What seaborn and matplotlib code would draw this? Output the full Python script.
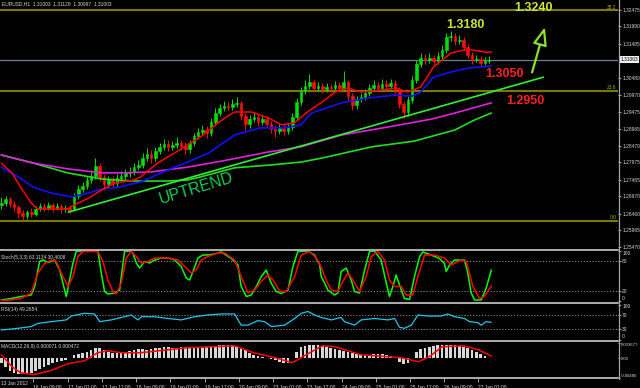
import matplotlib
matplotlib.use("Agg")
import matplotlib.pyplot as plt
from matplotlib.lines import Line2D
import matplotlib.transforms as mtransforms
import seaborn as sns

# ---------------- data ----------------
candle_hours = list(range(0, 229, 2))
open0 = 1.2670
closes = [1.2677, 1.2689, 1.2674, 1.2665, 1.2648, 1.2639, 1.2650, 1.2645, 1.2659, 1.2668,
          1.2662, 1.2671, 1.2662, 1.2668, 1.2659, 1.2662, 1.2656, 1.2698, 1.2718, 1.2727,
          1.2745, 1.2757, 1.2786, 1.2754, 1.2733, 1.2748, 1.2736, 1.2751, 1.2757, 1.2766,
          1.2769, 1.2783, 1.2789, 1.2810, 1.2822, 1.2810, 1.2831, 1.2843, 1.2851, 1.2843,
          1.2849, 1.2854, 1.2846, 1.2837, 1.2854, 1.2875, 1.2887, 1.2893, 1.2884, 1.2917,
          1.2943, 1.2958, 1.2964, 1.2961, 1.2970, 1.2973, 1.2934, 1.2911, 1.2925, 1.2931,
          1.2917, 1.2925, 1.2911, 1.2896, 1.2890, 1.2899, 1.2890, 1.2902, 1.2931, 1.2976,
          1.3008, 1.3023, 1.3035, 1.3017, 1.3023, 1.3014, 1.3020, 1.3017, 1.3026, 1.3017,
          1.3035, 1.2993, 1.2967, 1.2984, 1.2990, 1.3002, 1.3017, 1.3026, 1.3017, 1.3029,
          1.3023, 1.3032, 1.3011, 1.2970, 1.2946, 1.2982, 1.3041, 1.3088, 1.3106, 1.3100,
          1.3106, 1.3097, 1.3112, 1.3129, 1.3168, 1.3171, 1.3156, 1.3159, 1.3138, 1.3115,
          1.3100, 1.3103, 1.3091, 1.3097, 1.3100]
highs = [1.2695, 1.2698, 1.2695, 1.2683, 1.2671, 1.2656, 1.2656, 1.2662, 1.2668, 1.2677,
         1.2677, 1.2680, 1.2677, 1.2677, 1.2674, 1.2671, 1.2671, 1.2707, 1.2730, 1.2739,
         1.2757, 1.2775, 1.2810, 1.2795, 1.2763, 1.2757, 1.2757, 1.2763, 1.2772, 1.2778,
         1.2783, 1.2795, 1.2804, 1.2825, 1.2840, 1.2834, 1.2843, 1.2854, 1.2866, 1.2863,
         1.2860, 1.2872, 1.2863, 1.2857, 1.2863, 1.2884, 1.2899, 1.2908, 1.2905, 1.2928,
         1.2958, 1.2970, 1.2979, 1.2976, 1.2984, 1.2990, 1.2979, 1.2943, 1.2937, 1.2946,
         1.2940, 1.2937, 1.2934, 1.2920, 1.2908, 1.2911, 1.2908, 1.2914, 1.2943, 1.2987,
         1.3020, 1.3041, 1.3058, 1.3041, 1.3035, 1.3032, 1.3032, 1.3029, 1.3038, 1.3035,
         1.3067, 1.3041, 1.3002, 1.2993, 1.3002, 1.3014, 1.3029, 1.3041, 1.3035, 1.3044,
         1.3041, 1.3044, 1.3041, 1.3020, 1.2979, 1.2993, 1.3052, 1.3100, 1.3120, 1.3117,
         1.3120, 1.3115, 1.3123, 1.3144, 1.3180, 1.3185, 1.3180, 1.3174, 1.3168, 1.3147,
         1.3123, 1.3115, 1.3112, 1.3109, 1.3112]
lows = [1.2659, 1.2668, 1.2665, 1.2653, 1.2633, 1.2627, 1.2630, 1.2636, 1.2639, 1.2653,
        1.2653, 1.2656, 1.2650, 1.2656, 1.2648, 1.2650, 1.2648, 1.2653, 1.2689, 1.2710,
        1.2718, 1.2736, 1.2748, 1.2742, 1.2716, 1.2721, 1.2724, 1.2727, 1.2742, 1.2748,
        1.2754, 1.2760, 1.2775, 1.2781, 1.2801, 1.2795, 1.2801, 1.2822, 1.2834, 1.2831,
        1.2834, 1.2840, 1.2834, 1.2822, 1.2825, 1.2846, 1.2866, 1.2878, 1.2869, 1.2875,
        1.2908, 1.2934, 1.2949, 1.2952, 1.2952, 1.2961, 1.2922, 1.2893, 1.2899, 1.2917,
        1.2905, 1.2908, 1.2899, 1.2884, 1.2872, 1.2881, 1.2878, 1.2881, 1.2893, 1.2922,
        1.2967, 1.2999, 1.3014, 1.3005, 1.3008, 1.3002, 1.3005, 1.3005, 1.3008, 1.3005,
        1.3008, 1.2982, 1.2952, 1.2955, 1.2976, 1.2982, 1.2993, 1.3008, 1.3005, 1.3008,
        1.3011, 1.3014, 1.2996, 1.2958, 1.2928, 1.2934, 1.2973, 1.3032, 1.3079, 1.3088,
        1.3091, 1.3085, 1.3088, 1.3103, 1.3120, 1.3156, 1.3144, 1.3147, 1.3126, 1.3106,
        1.3088, 1.3094, 1.3082, 1.3085, 1.3091]

ma_red_h = [0, 5, 9, 14, 17, 23, 31, 34, 41, 47, 53, 62, 65, 73, 81, 87, 93, 103, 109, 117,
            125, 131, 137, 143, 150, 156, 162, 168, 178, 184, 190, 196, 202, 210, 218, 226, 229]
ma_red_p = [1.2795, 1.2766, 1.2724, 1.2677, 1.2659, 1.2659, 1.2659, 1.2671, 1.2692, 1.2716,
            1.2736, 1.2745, 1.2754, 1.2795, 1.2825, 1.2849, 1.2872, 1.2922, 1.2946, 1.2946,
            1.2928, 1.2908, 1.2914, 1.2946, 1.2976, 1.3005, 1.3017, 1.3005, 1.3011, 1.3017,
            1.3005, 1.3020, 1.3079, 1.3120, 1.3132, 1.3123, 1.3123]
ma_blue_h = [0, 8, 15, 23, 33, 41, 47, 55, 65, 78, 87, 97, 109, 121, 132, 140, 145, 159,
             171, 184, 192, 196, 202, 210, 218, 224, 229]
ma_blue_p = [1.2783, 1.2754, 1.2724, 1.2707, 1.2695, 1.2707, 1.2718, 1.2724, 1.2739, 1.2775,
             1.2798, 1.2825, 1.2878, 1.2899, 1.2899, 1.2908, 1.2943, 1.2973, 1.2987, 1.2996,
             1.2993, 1.3005, 1.3049, 1.3064, 1.3076, 1.3079, 1.3082]
ma_mag_h = [0, 15, 31, 47, 55, 70, 87, 103, 125, 140, 159, 181, 201, 212, 229]
ma_mag_p = [1.2819, 1.2795, 1.2778, 1.2766, 1.2766, 1.2769, 1.2783, 1.2801, 1.2828, 1.2843,
            1.2878, 1.2902, 1.2925, 1.2943, 1.2973]
ma_grn_h = [0, 15, 31, 47, 62, 78, 87, 93, 109, 125, 140, 150, 173, 193, 212, 221, 229]
ma_grn_p = [1.2819, 1.2795, 1.2766, 1.2748, 1.2742, 1.2742, 1.2745, 1.2754, 1.2781, 1.2789,
            1.2798, 1.2810, 1.2843, 1.2860, 1.2893, 1.2922, 1.2943]

trend_h = [31.3, 253.3]
trend_p = [1.2650, 1.3049]
fib_levels = [1.3247, 1.3008, 1.2624]
fib_names = ["38.2", "23.6", "0.0"]
last_price = 1.31003

price_ticks = [1.32475, 1.31990, 1.31485, 1.30480, 1.29970, 1.29475, 1.28965, 1.28470,
               1.27975, 1.27465, 1.26970, 1.26460, 1.25965, 1.25470]

stoch_k_h = [0, 4.7, 9.3, 14, 15.6, 17.9, 19.5, 21.8, 24.9, 27.3, 29.6, 30.4, 31.9, 33.5, 35,
             37.4, 45.2, 46.7, 48.3, 49.8, 53, 55.3, 57.6, 60, 61.5, 63.1, 64.6, 67, 69.3, 71.7,
             74.8, 77.9, 81, 84.1, 86.4, 88, 89.6, 91.9, 94.2, 96.6, 99.7, 102.8, 107.5, 110.6,
             112.1, 114.5, 116.8, 119.2, 121.5, 123.8, 126.2, 128.5, 130.8, 134, 136.3, 138.6,
             143.3, 146.4, 148.8, 149.5, 151.1, 152.6, 155.7, 157.3, 158.8, 161.2, 163.5, 165.1,
             167.4, 169.8, 172.1, 174.4, 177.5, 179.9, 181.4, 183, 184.5, 186.1, 188.4, 190.8,
             193.1, 195.5, 197, 200.9, 204.8, 207.1, 207.9, 209.5, 211.8, 216.5, 218, 219.6,
             221.2, 224.3, 226.6, 229]
stoch_k = [2, 5, 9, 12, 29, 79, 82, 77, 82, 62, 22, 9, 42, 76, 99, 100, 100, 56, 19, 14,
           16, 22, 99, 100, 96, 76, 66, 79, 76, 82, 86, 86, 82, 69, 46, 42, 59, 86, 92, 92,
           94, 98, 85, 72, 29, 9, 12, 29, 49, 62, 35, 19, 15, 22, 69, 99, 100, 92, 72,
           49, 36, 22, 12, 16, 59, 66, 42, 19, 16, 62, 99, 100, 82, 36, 9, 29, 52, 32, 5,
           3, 49, 89, 98, 92, 85, 75, 59, 72, 82, 82, 56, 16, 2, 2, 26, 62]
stoch_d_h = [0, 4.7, 9.3, 14, 17.1, 20.2, 23.4, 25.7, 28, 31.2, 33.5, 35.8, 38.2, 45.2, 47.5,
             49.8, 52.2, 53.7, 56.1, 58.4, 60.7, 63.1, 65.4, 68.5, 71.7, 77.9, 82.6, 85.7, 88.8,
             91.1, 93.5, 96.6, 101.2, 104.4, 109, 112.1, 115.3, 118.4, 121.5, 124.6, 127, 130.1,
             133.2, 137.1, 140.2, 144.1, 147.2, 149.5, 151.8, 154.2, 157.3, 159.6, 162, 164.3,
             167.4, 170.5, 172.9, 176, 179.1, 181.4, 183.8, 186.9, 189.2, 192.3, 194.7, 197.8,
             202.5, 207.1, 210.2, 214.9, 217.3, 220.4, 223.5, 225.8, 229]
stoch_d = [1, 2, 5, 16, 56, 75, 82, 79, 56, 29, 49, 89, 99, 99, 79, 42, 19, 14, 36, 86,
           99, 89, 76, 79, 86, 86, 82, 69, 56, 62, 82, 89, 96, 96, 82, 49, 16, 22, 39, 52,
           42, 19, 19, 49, 92, 99, 86, 68, 42, 22, 19, 39, 56, 42, 19, 49, 89, 99, 82, 42,
           29, 29, 12, 12, 49, 92, 92, 86, 72, 82, 79, 29, 5, 9, 30]

rsi_h = [0, 7.8, 14, 17.1, 23.4, 30.4, 32.7, 38.9, 43.6, 46, 51.4, 57.6, 60.7, 63.9, 65.4,
         71.7, 77.9, 84.1, 90.3, 96.6, 102.8, 109, 112.1, 115.3, 119.9, 123, 126.2, 132.4,
         137.1, 140.2, 143.3, 146.4, 149.5, 154.2, 158.8, 160.4, 165.1, 168.2, 174.4, 180.7,
         183.8, 186.1, 188.4, 191.6, 194.7, 199.3, 205.6, 208.7, 211.8, 216.5, 218.8, 222.7,
         224.3, 226.6, 229]
rsi = [27, 32, 37, 46, 51, 56, 67, 75, 73, 51, 56, 65, 70, 56, 65, 65, 60, 56, 65, 70,
       73, 73, 41, 41, 54, 51, 37, 41, 60, 75, 80, 70, 63, 56, 63, 51, 41, 56, 60, 56,
       60, 35, 32, 41, 70, 67, 67, 73, 65, 60, 51, 48, 41, 51, 49]

macd_hist = [-0.0011, -0.0021, -0.0030, -0.0035, -0.0037, -0.0039, -0.0039, -0.0035, -0.0030, -0.0025,
             -0.0021, -0.0016, -0.0011, -0.0009, -0.0006, -0.0004, -0.0001, 0.0008, 0.0010, 0.0013,
             0.0015, 0.0020, 0.0024, 0.0024, 0.0020, 0.0015, 0.0013, 0.0013, 0.0013, 0.0015,
             0.0017, 0.0020, 0.0022, 0.0022, 0.0020, 0.0022, 0.0024, 0.0024, 0.0027, 0.0027,
             0.0024, 0.0024, 0.0027, 0.0027, 0.0027, 0.0024, 0.0027, 0.0027, 0.0027, 0.0029,
             0.0029, 0.0031, 0.0031, 0.0031, 0.0031, 0.0029, 0.0024, 0.0020, 0.0013, 0.0008,
             0.0005, 0.0003, 0.0001, -0.0002, -0.0004, -0.0009, -0.0011, -0.0011, 0.0001, 0.0015,
             0.0027, 0.0029, 0.0031, 0.0031, 0.0031, 0.0029, 0.0027, 0.0024, 0.0022, 0.0020,
             0.0017, 0.0015, 0.0013, 0.0010, 0.0008, 0.0008, 0.0008, 0.0010, 0.0010, 0.0010,
             0.0008, 0.0005, 0.0001, -0.0009, -0.0013, -0.0011, 0.0001, 0.0015, 0.0022, 0.0024,
             0.0027, 0.0029, 0.0031, 0.0031, 0.0031, 0.0031, 0.0031, 0.0029, 0.0027, 0.0024,
             0.0020, 0.0015, 0.0010, 0.0005, 0.0001]
macd_sig_h = [0, 5, 9, 15, 23, 31, 39, 45, 50, 56, 65, 78, 87, 109, 118, 128, 136, 145, 150,
              156, 168, 181, 187, 195, 200, 206, 216, 223, 229]
macd_sig = [0.00078, -0.00205, -0.00347, -0.00394, -0.00300, -0.00135, -0.00064, 0.00125,
            0.00172, 0.00125, 0.00125, 0.00196, 0.00243, 0.00290, 0.00125, 0.00007, -0.00111,
            0.00149, 0.00290, 0.00267, 0.00078, 0.00031, 0.00007, -0.00087, 0.00031, 0.00267,
            0.00290, 0.00196, 0.00047]

date_hours = [15, 31, 47, 63, 79, 95, 111, 127, 143, 159, 175, 191, 207, 223]
date_labels = ["16 Jan 09:00", "17 Jan 01:00", "17 Jan 17:00", "18 Jan 09:00", "19 Jan 01:00",
               "19 Jan 17:00", "20 Jan 09:00", "23 Jan 01:00", "23 Jan 17:00", "24 Jan 09:00",
               "25 Jan 01:00", "25 Jan 17:00", "26 Jan 09:00", "27 Jan 01:00"]

# ---------------- style ----------------
sns.set_theme(style="dark", rc={"axes.facecolor": "black", "figure.facecolor": "black",
                                "axes.grid": False})
plt.rcParams["font.family"] = ["Liberation Sans", "DejaVu Sans"]

W, H = 640, 388
fig = plt.figure(figsize=(W / 100, H / 100), dpi=100)


def rect(x0, y0, x1, y1):
    return [x0 / W, 1 - y1 / H, (x1 - x0) / W, (y1 - y0) / H]


ax_p = fig.add_axes(rect(0, 0, 618, 249.5))
ax_s = fig.add_axes(rect(0, 251, 618, 301))
ax_r = fig.add_axes(rect(0, 304.5, 618, 339.5))
ax_m = fig.add_axes(rect(0, 342.5, 618, 378.3))

XMIN, XMAX = -0.6, 288.2
SMALL = 3.5
TXT = "#d8d8d8"
for ax in (ax_p, ax_s, ax_r, ax_m):
    ax.set_facecolor("black")
    ax.set_xlim(XMIN, XMAX)
    for sp in ax.spines.values():
        sp.set_visible(False)
    ax.yaxis.tick_right()
    ax.tick_params(axis="y", length=2.2, width=0.6, color="#c0c0c0", labelsize=SMALL,
                   labelcolor=TXT, pad=0.8, direction="out")
    ax.tick_params(axis="x", bottom=False, labelbottom=False)

# ---------------- price panel ----------------
ax_p.set_ylim(1.25396, 1.32771)
ytrans = mtransforms.blended_transform_factory(ax_p.transAxes, ax_p.transData)
for lv, nm in zip(fib_levels, fib_names):
    ax_p.axhline(lv, color="#7a7a00", lw=1.5, zorder=1)
    ax_p.text(0.997, lv + 0.0002, nm, color="#a8a800", fontsize=SMALL, ha="right",
              va="bottom", transform=ytrans, zorder=2)
ax_p.axhline(last_price, color="#6f8090", lw=0.9, zorder=1)

opens = [open0] + closes[:-1]
cols = ["#00e000" if c >= o else "#ff1010" for o, c in zip(opens, closes)]
heights = [c - o for o, c in zip(opens, closes)]
ax_p.vlines(candle_hours, lows, highs, colors=cols, lw=0.7, zorder=3)
ax_p.bar(candle_hours, heights, bottom=opens, width=1.2, color=cols, edgecolor=cols,
         linewidth=0.4, zorder=3)

sns.lineplot(x=ma_grn_h, y=ma_grn_p, ax=ax_p, color="#20e020", lw=1.2, sort=False, zorder=4)
sns.lineplot(x=ma_mag_h, y=ma_mag_p, ax=ax_p, color="#e020e0", lw=1.2, sort=False, zorder=4)
sns.lineplot(x=ma_blue_h, y=ma_blue_p, ax=ax_p, color="#1010ff", lw=1.2, sort=False, zorder=4)
sns.lineplot(x=ma_red_h, y=ma_red_p, ax=ax_p, color="#ff0000", lw=1.1, sort=False, zorder=4)
sns.lineplot(x=trend_h, y=trend_p, ax=ax_p, color="#30f030", lw=1.2, sort=False, zorder=4)

ax_p.set_yticks(price_ticks)
ax_p.set_yticklabels([f"{v:.5f}" for v in price_ticks])
ax_p.text(1.0035, last_price, f"{last_price:.5f}", transform=ax_p.get_yaxis_transform(),
          fontsize=SMALL, color="black", ha="left", va="center", clip_on=False,
          bbox=dict(boxstyle="square,pad=0.2", fc="#f0f0f0", ec="none"), zorder=10)

yg = "#cde534"
rd = "#ff2020"
ax_p.text(248.6, 1.3253, "1.3240", color=yg, fontsize=9, fontweight="bold", ha="center", va="center")
ax_p.text(216.8, 1.3202, "1.3180", color=yg, fontsize=9, fontweight="bold", ha="center", va="center")
ax_p.text(235.0, 1.3057, "1.3050", color=rd, fontsize=9, fontweight="bold", ha="center", va="center")
ax_p.text(244.9, 1.2979, "1.2950", color=rd, fontsize=9, fontweight="bold", ha="center", va="center")
ax_p.text(91.1, 1.2721, "UPTREND", color="#10d050", fontsize=11.5, rotation=17,
          ha="center", va="center")
ax_p.annotate("", xy=(254.4, 1.3205), xytext=(247.7, 1.3055),
              arrowprops=dict(arrowstyle="-|>,head_length=0.9,head_width=0.35",
                              edgecolor="#8ee02a", facecolor="black", lw=1.6))

fig.text(2 / W, 1 - 4 / H, "EURUSD,H1  1.31003  1.31129  1.30997  1.31003", color=TXT,
         fontsize=SMALL, ha="left", va="center")

# ---------------- stochastic ----------------
ax_s.set_ylim(0, 100)
for lv in (80, 20):
    ax_s.axhline(lv, color="#9a9a9a", lw=0.6, ls=(0, (1.5, 2)))
sns.lineplot(x=stoch_k_h, y=stoch_k, ax=ax_s, color="#00ff00", lw=1.1, sort=False, clip_on=False)
sns.lineplot(x=stoch_d_h, y=stoch_d, ax=ax_s, color="#ff0000", lw=1.1, sort=False, clip_on=False)
ax_s.set_yticks([100, 80, 20, 0])
ax_s.set_yticklabels(["100", "80", "20", "0"])
lbls = ax_s.get_yticklabels()
lbls[0].set_va("top")
lbls[3].set_va("bottom")
ax_s.text(0.002, 0.93, "Stoch(5,3,3) 63.1134 30.4008", transform=ax_s.transAxes, color=TXT,
          fontsize=SMALL, ha="left", va="top")

# ---------------- RSI ----------------
ax_r.set_ylim(0, 100)
for lv in (70, 30):
    ax_r.axhline(lv, color="#9a9a9a", lw=0.6, ls=(0, (1.5, 2)))
sns.lineplot(x=rsi_h, y=rsi, ax=ax_r, color="#22c8ec", lw=0.9, sort=False)
ax_r.set_yticks([100, 70, 30, 0])
ax_r.set_yticklabels(["100", "70", "30", "0"])
lbls = ax_r.get_yticklabels()
lbls[0].set_va("top")
lbls[3].set_va("bottom")
ax_r.text(0.002, 0.93, "RSI(14) 49.2654", transform=ax_r.transAxes, color=TXT,
          fontsize=SMALL, ha="left", va="top")

# ---------------- MACD ----------------
ax_m.set_ylim(-0.0048, 0.003677)
ax_m.bar(candle_hours, macd_hist, width=1.25, color="#d8d8d8", linewidth=0, zorder=2)
sns.lineplot(x=macd_sig_h, y=macd_sig, ax=ax_m, color="#ff0000", lw=1.1, sort=False, zorder=3)
ax_m.set_yticks([0.003677, 0.0, -0.0048])
ax_m.set_yticklabels(["0.003677", "0.00", "-0.00480"])
ax_m.tick_params(axis="y", length=1.4, pad=0.5, labelsize=3.1)
lbls = ax_m.get_yticklabels()
lbls[0].set_va("top")
lbls[2].set_va("bottom")
ax_m.text(0.002, 0.95, "MACD(12,26,9) 0.000071 0.000472", transform=ax_m.transAxes, color=TXT,
          fontsize=SMALL, ha="left", va="top")
ax_m.set_xticks(date_hours)
ax_m.set_xticklabels(date_labels)
ax_m.tick_params(axis="x", bottom=True, labelbottom=True, length=3, width=0.6,
                 color="#c0c0c0", labelsize=SMALL, labelcolor=TXT, pad=1.5)
for t in ax_m.get_xticklabels():
    t.set_ha("left")
ax_m.text(0.001, -0.07, "13 Jan 2012", color=TXT, fontsize=SMALL, ha="left",
          va="top", transform=ax_m.transAxes, clip_on=False)

for ax in (ax_p, ax_s, ax_r, ax_m):
    ax.set_xlabel("")
    ax.set_ylabel("")

# ---------------- panel separators ----------------
def hline_px(y, x0=0, x1=618.3, lw_px=2, color="#a8a8a8"):
    fig.add_artist(Line2D([x0 / W, x1 / W], [1 - y / H, 1 - y / H], transform=fig.transFigure,
                          color=color, lw=lw_px * 0.72))


for y in (250.3, 302.6, 340.9, 378.2):
    hline_px(y)
fig.add_artist(Line2D([618.6 / W, 618.6 / W], [1 - 379 / H, 1.0], transform=fig.transFigure,
                      color="#a8a8a8", lw=1.2 * 0.72))

fig.savefig("out.png", dpi=100, facecolor="black")
